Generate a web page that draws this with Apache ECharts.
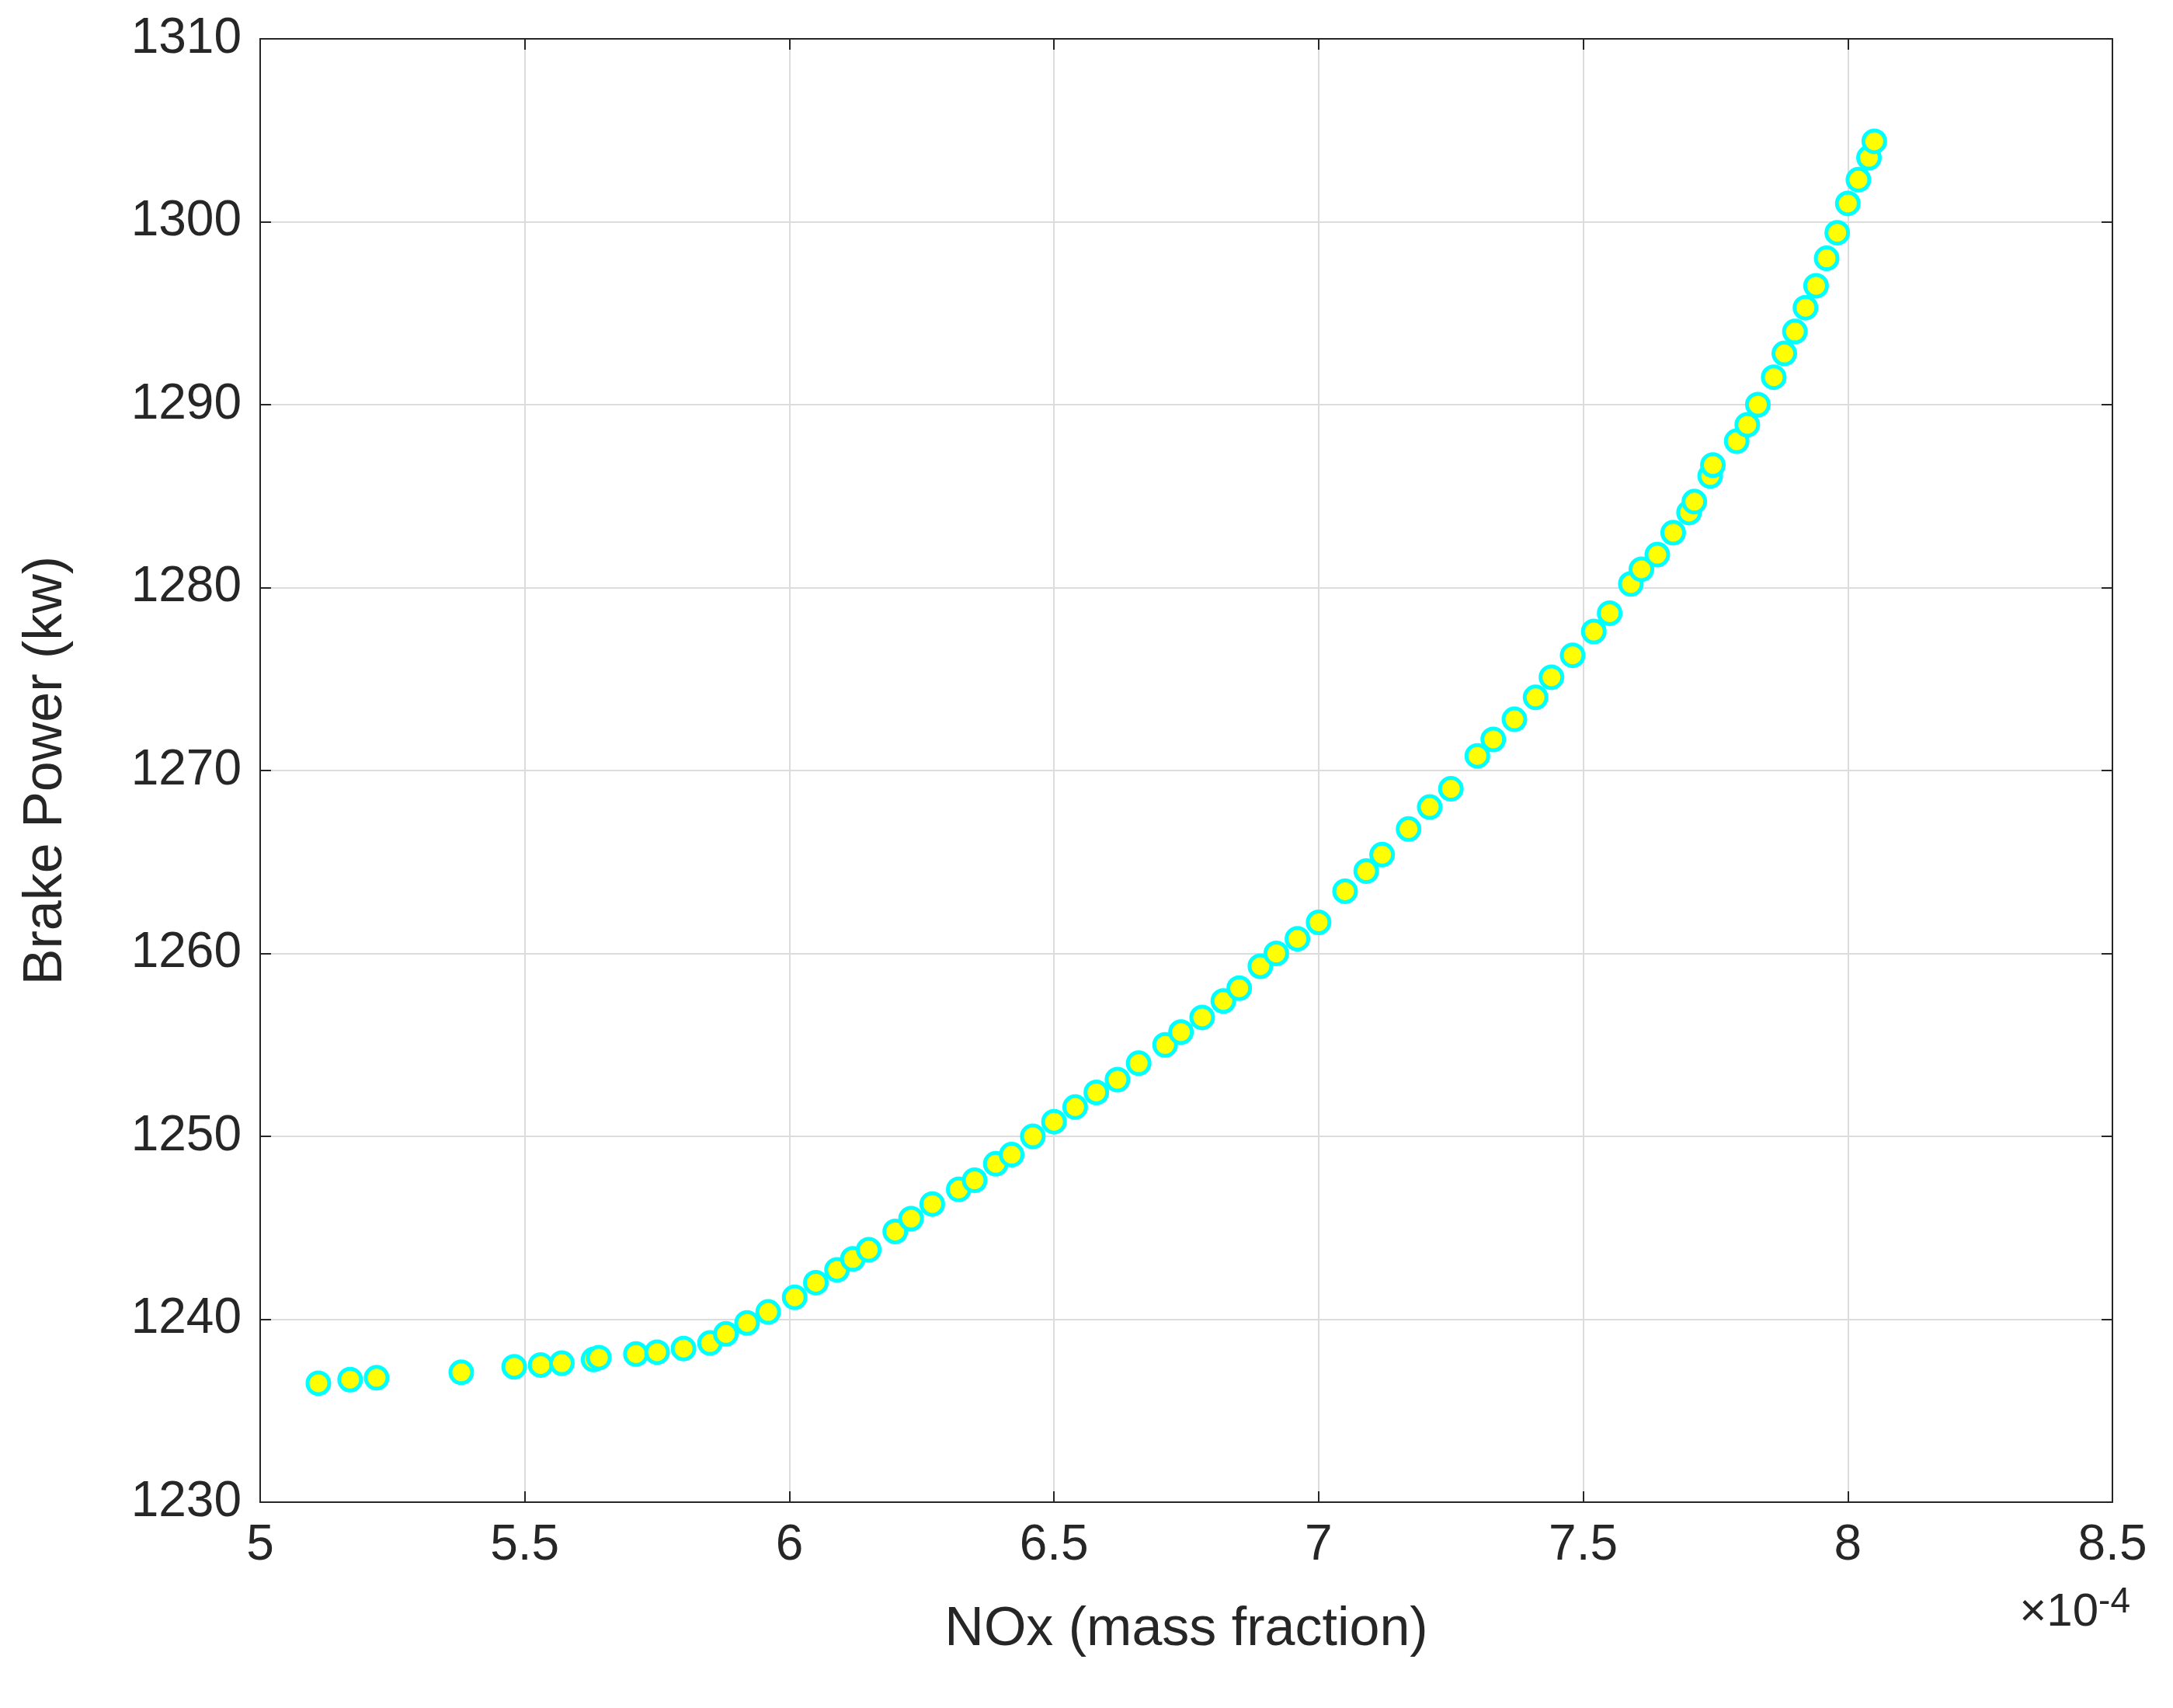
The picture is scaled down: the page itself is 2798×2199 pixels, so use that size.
<!DOCTYPE html>
<html><head><meta charset="utf-8">
<script src="https://cdn.jsdelivr.net/npm/echarts@6/dist/echarts.min.js"></script>
<style>html,body{margin:0;padding:0;background:#fff}#c{width:2798px;height:2199px}</style>
</head><body><div id="c"></div>
<script>
const noxValues = [5.11,5.17,5.22,5.38,5.48,5.53,5.57,5.63,5.64,5.71,5.75,5.80,5.85,5.88,5.92,5.96,6.01,6.05,6.09,6.12,6.15,6.20,6.23,6.27,6.32,6.35,6.39,6.42,6.46,6.50,6.54,6.58,6.62,6.66,6.71,6.74,6.78,6.82,6.85,6.89,6.92,6.96,7.00,7.05,7.09,7.12,7.17,7.21,7.25,7.30,7.33,7.37,7.41,7.44,7.48,7.52,7.55,7.59,7.61,7.64,7.67,7.70,7.71,7.74,7.745,7.79,7.81,7.83,7.86,7.88,7.90,7.92,7.94,7.96,7.98,8.00,8.02,8.04,8.05];
const powerValues = [1236.5,1236.7,1236.8,1237.1,1237.4,1237.5,1237.6,1237.8,1237.9,1238.1,1238.2,1238.4,1238.7,1239.2,1239.8,1240.4,1241.2,1242,1242.7,1243.3,1243.8,1244.8,1245.5,1246.3,1247.1,1247.6,1248.5,1249,1250,1250.8,1251.6,1252.4,1253.1,1254,1255,1255.7,1256.5,1257.4,1258.1,1259.3,1260,1260.8,1261.7,1263.4,1264.5,1265.4,1266.8,1268,1269,1270.8,1271.7,1272.8,1274,1275.1,1276.3,1277.6,1278.6,1280.2,1281,1281.8,1283,1284.1,1284.7,1286.1,1286.7,1288,1288.9,1290,1291.5,1292.8,1294,1295.3,1296.5,1298,1299.4,1301,1302.3,1303.5,1304.4];
const xTitle = 'NOx (mass fraction)';
const yTitle = 'Brake Power (kw)';

const font = 'Liberation Sans, Arial, sans-serif';
const chart = echarts.init(document.getElementById('c'));
const tickStyle = {show:true, inside:true, length:14, lineStyle:{color:'#262626', width:2}};
const lineStyle = {show:true, lineStyle:{color:'#262626', width:2}};
const split = {show:true, lineStyle:{color:'#dcdcdc', width:2}};
chart.setOption({
  animation:false,
  backgroundColor:'#fff',
  grid:{left:335, right:78, top:50, bottom:265},
  xAxis:[
    {type:'value', min:5, max:8.5, interval:0.5, axisLine:lineStyle, axisTick:tickStyle, splitLine:split,
     axisLabel:{color:'#262626', fontSize:64, fontFamily:font, margin:24, formatter:v=>String(v)},
     name:xTitle, nameLocation:'middle', nameGap:130, nameTextStyle:{color:'#262626', fontSize:70, fontFamily:font}},
    {type:'value', position:'top', min:5, max:8.5, interval:0.5, axisLine:lineStyle, axisTick:tickStyle, splitLine:{show:false}, axisLabel:{show:false}}
  ],
  yAxis:[
    {type:'value', min:1230, max:1310, interval:10, axisLine:lineStyle, axisTick:tickStyle, splitLine:split,
     axisLabel:{color:'#262626', fontSize:64, fontFamily:font, margin:24, formatter:v=>String(v)},
     name:yTitle, nameLocation:'middle', nameGap:240, nameTextStyle:{color:'#262626', fontSize:70, fontFamily:font}},
    {type:'value', position:'right', min:1230, max:1310, interval:10, axisLine:lineStyle, axisTick:tickStyle, splitLine:{show:false}, axisLabel:{show:false}}
  ],
  graphic:[{type:'text', right:55, top:2040, style:{rich:{a:{fontSize:60,fontFamily:font,fill:'#262626'},b:{fontSize:46,fontFamily:font,fill:'#262626',verticalAlign:'top',padding:[0,0,26,0]}}, text:'{a|×10}{b|-4}'}}],
  series:[{type:'scatter', data:noxValues.map((x,i)=>[x,powerValues[i]]), symbolSize:28,
    itemStyle:{color:'#ffff00', borderColor:'#00ffff', borderWidth:5, opacity:1}}]
});
</script></body></html>
